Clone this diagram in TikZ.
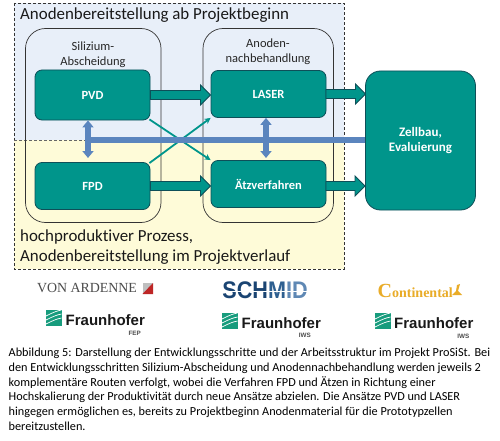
\documentclass[tikz,border=0pt]{standalone}
\usepackage{fontspec}
\setmainfont[Ligatures=NoCommon]{Carlito}
\newfontfamily\serifL{Liberation Serif}
\newfontfamily\sansL{Liberation Sans}
\usetikzlibrary{arrows.meta,calc}
\definecolor{teal1}{HTML}{00958B}
\definecolor{tealdk}{HTML}{0E4F58}
\definecolor{blue1}{HTML}{5B85BE}
\definecolor{paleblue}{HTML}{E8EFF9}
\definecolor{paley}{HTML}{FEFBD8}
\definecolor{fhg}{HTML}{179C7D}
\definecolor{ora}{HTML}{E9AC28}
\definecolor{schA}{HTML}{1A4472}
\definecolor{schB}{HTML}{2E5F90}
\definecolor{schC}{HTML}{5F88B4}
\tikzset{
 x=1pt,y=-1pt,
 proc/.style={draw=tealdk,line width=0.8pt,fill=teal1,rounded corners=7pt,text=white,font=\bfseries\fontsize{12.5}{14}\selectfont,align=center,inner sep=0pt},
 group/.style={draw=black!80,line width=0.7pt,rounded corners=20pt},
 flow/.style={draw=tealdk,line width=0.9pt,fill=teal1},
 crossline/.style={draw=teal1,line width=1.8pt,-{Stealth[length=6pt,width=6pt]}},
 bluebar/.style={draw=blue1,line width=6pt},
 bluearrow/.style={draw=blue1,line width=5.5pt,{Stealth[length=7pt,width=11pt,inset=0pt]}-{Stealth[length=7pt,width=11pt,inset=0pt]}},
 lbl/.style={inner sep=0pt,text=black!85,align=center,font=\fontsize{12.5}{15}\selectfont},
 big/.style={inner sep=0pt,anchor=west,text=black!90,font=\fontsize{16.9}{20}\selectfont},
 captxt/.style={inner sep=0pt,anchor=west,text=black,font=\fontsize{12.25}{13}\selectfont},
 fhgtxt/.style={inner sep=0pt,anchor=west,text=black!90,font=\sansL\bfseries\fontsize{15}{16}\selectfont},
 subtxt/.style={inner sep=0pt,anchor=east,text=black!70,font=\sansL\bfseries\fontsize{6.3}{7}\selectfont},
}
\newcommand{\flowarrow}[3]{% x1,x2,y
 \path[flow] (#1,#3-4.5) -- (#2-10,#3-4.5) -- (#2-10,#3-10) -- (#2,#3) -- (#2-10,#3+10) -- (#2-10,#3+4.5) -- (#1,#3+4.5) -- cycle;}
\newcommand{\fhglogo}[2]{% x,y top-left
 \fill[fhg] (#1,#2) rectangle ++(15.5,15.5);
 \foreach \d in {4,8,12}{\draw[white,line width=0.7pt] (#1,#2+\d+2) .. controls (#1+6,#2+\d-1) and (#1+10,#2+\d-3) .. (#1+15.5,#2+\d-4);}
}
\begin{document}
\begin{tikzpicture}
\useasboundingbox (0,0) rectangle (500,441);
\fill[white] (0,0) rectangle (500,441);
% backgrounds
\fill[paleblue] (14,3) rectangle (344,140);
\fill[paley] (14,140) rectangle (344,269);
\draw[densely dashed,line width=0.6pt,black!80] (14,3) rectangle (344,269);
\draw[densely dashed,line width=0.5pt,black!60] (14,140) -- (344,140);
% groups
\draw[group] (25.5,28.5) rectangle (161,222.5);
\draw[group] (203,28.5) rectangle (333.5,222.5);
% nodes
\coordinate (bL) at (88,140);
\coordinate (bR) at (266,140);
\node[proc,minimum width=115pt,minimum height=50pt] (pvd) at (92.5,95) {PVD};
\node[proc,minimum width=115pt,minimum height=47pt] (fpd) at (92.5,186) {FPD};
\node[proc,minimum width=115pt,minimum height=47pt] (laser) at (268.5,94) {LASER};
\node[proc,minimum width=115pt,minimum height=47pt] (aetz) at (268.5,184) {Ätzverfahren};
\node[proc,minimum width=110pt,minimum height=139pt,rounded corners=15pt,font=\bfseries\fontsize{13}{15.5}\selectfont] (zell) at (420.5,140.5) {Zellbau,\\Evaluierung};
% cross
\draw[crossline] (pvd.south east) ++(-1,-1) -- (aetz.north west);
\draw[crossline] (fpd.north east) ++(-1,1) -- (laser.south west);
% blue
\draw[bluebar] (bL) -- (bL-|zell.west);
\draw[bluearrow] (88,158) -- (pvd.south-|bL);
\draw[bluearrow] (266,158) -- (laser.south-|bR);
% flows
\flowarrow{150.5}{210.5}{95}
\flowarrow{150.5}{210.5}{186}
\flowarrow{326}{365.5}{94}
\flowarrow{326}{365}{186}
% labels
\node[big] (t1) at (20,15.5) {Anodenbereitstellung ab Projektbeginn};
\node[big] (t2) at (20,237) {hochproduktiver Prozess,};
\node[big] (t3) at (20,257) {Anodenbereitstellung im Projektverlauf};
\node[lbl] (g1) at (93,54.5) {Silizium-\\Abscheidung};
\node[lbl] (g2) at (268,51.5) {Anoden-\\nachbehandlung};
% logos
\node[inner sep=0pt,text=black!70,font=\serifL\fontsize{13.9}{14}\selectfont] (va) at (87,288.5) {VON ARDENNE};
\fill[black!25] (142.5,283) rectangle (153,294);
\fill[red!70!black!85] (153,283) -- (153,294) -- (142.5,294) -- cycle;
\node[inner sep=0pt,xscale=0.9,font=\sansL\bfseries\fontsize{24}{24}\selectfont] (sch) at (265,290.5) {\textcolor{schA}{SCH}\textcolor{schB}{M}\textcolor{schC}{ID}};
\draw[white,line width=0.6pt] (220,291.5) -- (312,291.5);
\node[inner sep=0pt,anchor=west,text=ora,font=\serifL\bfseries\fontsize{14}{15}\selectfont] (con) at (377.5,290.5) {{\fontsize{20}{20}\selectfont C}ontinental};
\fill[ora] (452,295) -- (462,295) -- (458,291) -- (460,284) -- (457,285) -- (456,291) -- cycle;
\fhglogo{46}{310}
\node[fhgtxt] (f1) at (65.5,320.5) {Fraunhofer};
\node[subtxt] (f1s) at (141,333.5) {FEP};
\fhglogo{222}{313}
\node[fhgtxt] (f2) at (241.5,323) {Fraunhofer};
\node[subtxt] (f2s) at (311,335) {IWS};
\fhglogo{375}{313}
\node[fhgtxt] (f3) at (394,323.5) {Fraunhofer};
\node[subtxt] (f3s) at (469.5,336) {IWS};
% caption
\node[captxt] (c1) at (8.5,353) {Abbildung 5: Darstellung der Entwicklungsschritte und der Arbeitsstruktur im Projekt ProSiSt. Bei};
\node[captxt] (c2) at (8.5,368) {den Entwicklungsschritten Silizium-Abscheidung und Anodennachbehandlung werden jeweils 2};
\node[captxt] (c3) at (8.5,382.5) {komplementäre Routen verfolgt, wobei die Verfahren FPD und Ätzen in Richtung einer};
\node[captxt] (c4) at (8.5,397) {Hochskalierung der Produktivität durch neue Ansätze abzielen. Die Ansätze PVD und LASER};
\node[captxt] (c5) at (8.5,412) {hingegen ermöglichen es, bereits zu Projektbeginn Anodenmaterial für die Prototypzellen};
\node[captxt] (c6) at (8.5,426.5) {bereitzustellen.};
\end{tikzpicture}
\end{document}
